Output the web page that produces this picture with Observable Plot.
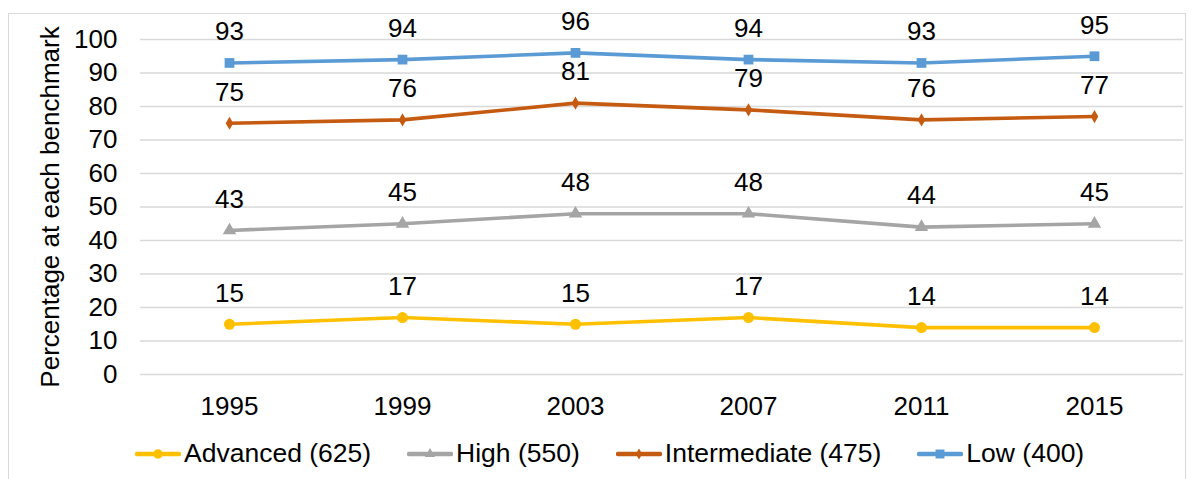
<!DOCTYPE html>
<html>
<head>
<meta charset="utf-8">
<script src="https://cdn.jsdelivr.net/npm/d3@7"></script>
<script src="https://cdn.jsdelivr.net/npm/@observablehq/plot@0.6"></script>
<style>
  html, body { margin: 0; padding: 0; background: #fff; }
  body { width: 1195px; height: 479px; position: relative; overflow: hidden; font-family: "Liberation Sans", Arial, sans-serif; }
  #frame { position: absolute; left: 8px; top: 13px; width: 1178px; height: 480px; border: 1.5px solid #d9d9d9; box-sizing: border-box; }
  #chart { position: absolute; left: 0; top: 0; }
  #legend { position: absolute; left: 135px; top: 438px; display: flex; align-items: center; gap: 36px; font-size: 26.5px; color: #000; }
  .item { display: flex; align-items: center; gap: 3px; }
</style>
</head>
<body>
<div id="frame"></div>
<div id="chart"></div>
<div id="legend"></div>
<script>
const years = ["1995", "1999", "2003", "2007", "2011", "2015"];
const series = ["Advanced (625)", "High (550)", "Intermediate (475)", "Low (400)"];
const advanced = [15, 17, 15, 17, 14, 14];
const high = [43, 45, 48, 48, 44, 45];
const intermediate = [75, 76, 81, 79, 76, 77];
const low = [93, 94, 96, 94, 93, 95];
const colors = ["#FFC000", "#A5A5A5", "#C55A11", "#5B9BD5"];
const symbols = ["circle", "triangle", "diamond", "square"];
const yTicks = [0, 10, 20, 30, 40, 50, 60, 70, 80, 90, 100];

const valueSets = [advanced, high, intermediate, low];
const data = [];
series.forEach((s, i) => years.forEach((y, j) => data.push({series: s, year: y, value: valueSets[i][j]})));

const fs = 26;
const chart = Plot.plot({
  width: 1195,
  height: 430,
  marginLeft: 140,
  marginRight: 12,
  marginTop: 39,
  marginBottom: 56,
  style: {fontFamily: "'Liberation Sans', Arial, sans-serif", fontSize: fs + "px", color: "#000", background: "transparent"},
  x: {type: "point", domain: years, padding: 0.5},
  y: {domain: [0, 100]},
  color: {domain: series, range: colors},
  symbol: {domain: series, range: symbols},
  marks: [
    Plot.ruleY(yTicks, {stroke: "#d9d9d9", strokeWidth: 1.5}),
    Plot.axisY(yTicks, {tickSize: 0, tickPadding: 23, fontSize: fs, label: null, fill: "#000"}),
    Plot.axisX({tickSize: 0, tickPadding: 22, fontSize: fs, label: null, fill: "#000"}),
    Plot.text(["Percentage at each benchmark"], {frameAnchor: "left", textAnchor: "middle", rotate: -90, dx: -90, fontSize: fs, fill: "#000"}),
    Plot.line(data, {x: "year", y: "value", z: "series", stroke: "series", strokeWidth: 3.6}),
    Plot.dot(data.filter(d => d.series === series[0]), {x: "year", y: "value", fill: "series", symbol: "series", r: 5.5}),
    Plot.dot(data.filter(d => d.series === series[1]), {x: "year", y: "value", fill: "series", symbol: "series", r: 5}),
    Plot.dot(data.filter(d => d.series === series[2]), {x: "year", y: "value", fill: "series", symbol: "series", r: 4}),
    Plot.dot(data.filter(d => d.series === series[3]), {x: "year", y: "value", fill: "series", symbol: "series", r: 5.5}),
    Plot.text(data, {x: "year", y: "value", text: d => String(d.value), dy: -31, fontSize: fs, fill: "#000"})
  ]
});
document.getElementById("chart").appendChild(chart);

// Legend
const legend = d3.select("#legend");
series.forEach((s, i) => {
  const item = legend.append("div").attr("class", "item");
  const svg = item.append("svg").attr("width", 46).attr("height", 20);
  svg.append("line").attr("x1", 2).attr("x2", 44).attr("y1", 10).attr("y2", 10)
    .attr("stroke", colors[i]).attr("stroke-width", 4.5).attr("stroke-linecap", "round");
  const sym = d3.symbol().type([d3.symbolCircle, d3.symbolTriangle, d3.symbolDiamond, d3.symbolSquare][i]).size([70, 45, 35, 80][i]);
  svg.append("path").attr("d", sym()).attr("transform", "translate(23,10)").attr("fill", colors[i]);
  item.append("span").text(s);
});
</script>
</body>
</html>
